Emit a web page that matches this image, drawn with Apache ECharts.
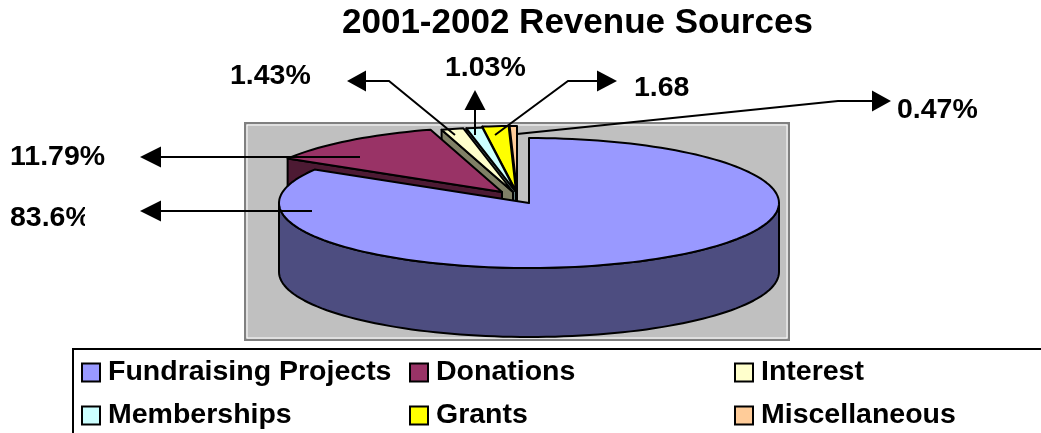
<!DOCTYPE html>
<html>
<head>
<meta charset="utf-8">
<style>html,body{margin:0;padding:0;background:#fff}#main{width:1041px;height:433px}</style>
<script src="https://cdn.jsdelivr.net/npm/echarts@6/dist/echarts.min.js"></script>
</head>
<body>
<div id="main"></div>
<script>
var categories = ["Fundraising Projects", "Donations", "Interest", "Memberships", "Grants", "Miscellaneous"];
var values = [83.6, 11.79, 1.43, 1.03, 1.68, 0.47];
var valueLabels = ["83.6%", "11.79%", "1.43%", "1.03%", "1.68", "0.47%"];
var topColors = ["#9999ff", "#993366", "#ffffcc", "#ccffff", "#ffff00", "#ffcc99"];
var sideColors = ["#4d4d80", "#4d1a33", "#808066", "#668080", "#808000", "#80664d"];

var FONT = '"Liberation Sans", Arial, sans-serif';
var RX = 250, RY = 65, DEPTH = 69;
//exploded slices do not share one centre, read off per slice
var centres = [[529, 203], [502, 192], [513, 192], [516, 192], [516, 191], [517, 191]];
//leader line points, from the slice to the arrow base, then the arrow tip
var leaders = [
    {line: [[312, 211], [161, 211]], tip: [140, 211], text: [10, 218]},
    {line: [[360, 157], [161, 157]], tip: [140, 157], text: [10, 157]},
    {line: [[455, 135], [389, 81], [366, 81]], tip: [347, 81], text: [230, 76]},
    {line: [[475, 135], [475, 110]], tip: [475, 90], text: [445, 68]},
    {line: [[495, 135], [568, 81], [597, 81]], tip: [617, 81], text: [634, 88]},
    {line: [[517, 134], [838, 101], [872, 101]], tip: [891, 101], text: [897, 110]}
];

var starts = [], total = 0;
values.forEach(function (v) { total += v; });
var acc = 0;
values.forEach(function (v) { starts.push(acc / total * 360); acc += v; });

function pt(c, deg, dy) {
    var r = deg * Math.PI / 180;
    return [c[0] + RX * Math.sin(r), c[1] - RY * Math.cos(r) + (dy || 0)];
}
function arc(c, a0, a1, dy) {
    var pts = [], n = Math.max(2, Math.ceil((a1 - a0) / 2));
    for (var i = 0; i <= n; i++) pts.push(pt(c, a0 + (a1 - a0) * i / n, dy));
    return pts;
}
function poly(points, fill) {
    return {type: 'polygon', shape: {points: points}, style: {fill: fill, stroke: '#000', lineWidth: 2, lineJoin: 'round'}};
}

function renderSlice(idx) {
    return function (params, api) {
        var a0 = starts[idx];
        var a1 = a0 + api.value(0) / total * 360;
        var c = centres[idx];
        var kids = [];
        //radial face on the start side
        if (a0 > 180 && a0 < 360) {
            kids.push(poly([c, pt(c, a0), pt(c, a0, DEPTH), [c[0], c[1] + DEPTH]], sideColors[idx]));
        }
        //outer wall, front half only
        var w0 = Math.max(a0, 90), w1 = Math.min(a1, 270);
        if (w1 > w0) {
            kids.push(poly(arc(c, w0, w1).concat(arc(c, w0, w1, DEPTH).reverse()), sideColors[idx]));
        }
        kids.push(poly([c].concat(arc(c, a0, a1)), topColors[idx]));
        return {type: 'group', children: kids};
    };
}

function renderLeader(params, api) {
    var l = leaders[params.dataIndex];
    var last = l.line[l.line.length - 1];
    var dx = l.tip[0] - last[0], dy = l.tip[1] - last[1];
    var len = Math.sqrt(dx * dx + dy * dy), nx = -dy / len * 10.5, ny = dx / len * 10.5;
    return {type: 'group', children: [
        {type: 'polyline', shape: {points: l.line}, style: {fill: 'none', stroke: '#000', lineWidth: 2}},
        {type: 'polygon', shape: {points: [l.tip, [last[0] + nx, last[1] + ny], [last[0] - nx, last[1] - ny]]}, style: {fill: '#000'}},
        {type: 'text', x: l.text[0], y: l.text[1], style: {text: valueLabels[params.dataIndex], fill: '#000', font: 'bold 28.5px ' + FONT, textAlign: 'left', textVerticalAlign: 'middle'}}
    ]};
}

var series = [];
for (var i = values.length - 1; i >= 0; i--) {
    series.push({
        type: 'custom', name: categories[i], coordinateSystem: 'none', silent: true,
        itemStyle: {color: topColors[i]},
        data: [[values[i]]], renderItem: renderSlice(i), z: 3
    });
}
series.push({
    type: 'custom', name: 'leaders', coordinateSystem: 'none', silent: true,
    data: values.map(function (v) { return [v]; }), renderItem: renderLeader, z: 5
});

function legendColumn(left, idxs) {
    return {
        left: left, top: 358, orient: 'vertical', padding: 0, itemGap: 14,
        itemWidth: 18, itemHeight: 18, selectedMode: false, icon: 'rect',
        textStyle: {fontFamily: FONT, fontWeight: 'bold', fontSize: 28.5, color: '#000', padding: [0, 0, 0, 3]},
        data: idxs.map(function (k) {
            return {name: categories[k], icon: 'rect', itemStyle: {color: topColors[k], borderColor: '#000', borderWidth: 2}};
        })
    };
}

var myChart = echarts.init(document.getElementById('main'), null, {renderer: 'canvas'});
myChart.setOption({
    animation: false,
    backgroundColor: '#fff',
    title: {
        text: '2001-2002 Revenue Sources', left: 342, top: 6, padding: 0,
        textStyle: {fontFamily: FONT, fontWeight: 'bold', fontSize: 35, color: '#000'}
    },
    legend: [legendColumn(81, [0, 3]), legendColumn(409, [1, 4]), legendColumn(734, [2, 5])],
    graphic: [
        {type: 'rect', z: 0, shape: {x: 245, y: 123, width: 544, height: 217}, style: {fill: '#c0c0c0', stroke: '#808080', lineWidth: 2}},
        {type: 'rect', z: 1, shape: {x: 247, y: 125, width: 540, height: 213}, style: {fill: 'none', stroke: '#fff', lineWidth: 1}},
        {type: 'polyline', z: 1, shape: {points: [[73, 433], [73, 349], [1041, 349]]}, style: {fill: 'none', stroke: '#000', lineWidth: 2}},
        //the 83.6% label is cut off in the original
        {type: 'rect', z: 10, shape: {x: 85, y: 200, width: 20, height: 36}, style: {fill: '#fff'}}
    ],
    series: series
});
</script>
</body>
</html>
